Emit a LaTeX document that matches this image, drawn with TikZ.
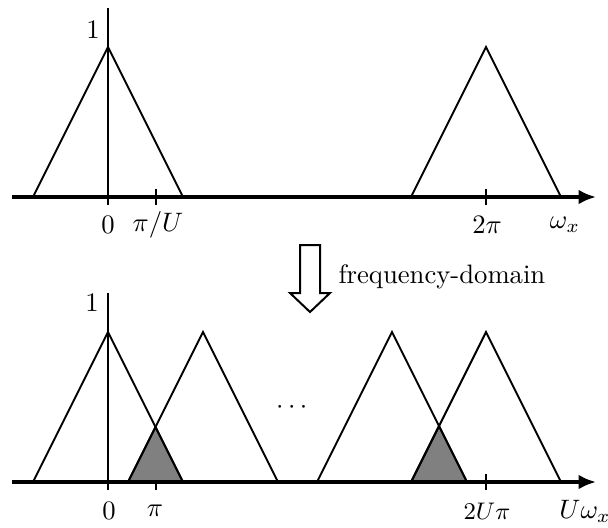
\documentclass[tikz,border=0pt]{standalone}
\usepackage{amsmath}
\usepackage{tikz}
\usetikzlibrary{arrows.meta}

\begin{document}
\begin{tikzpicture}[
  x=0.375pt,y=-0.375pt,
  axis/.style={line width=1.5pt,-{Latex[length=6.5pt,width=5.5pt]}},
  vaxis/.style={line width=1pt},
  tri/.style={line width=0.75pt,line join=miter},
  tick/.style={line width=0.75pt},
  overlap/.style={fill=black!50,draw=black,line width=0.75pt},
  lbl/.style={inner sep=0pt},
  hollow/.style={draw,line width=0.75pt,fill=white},
]
\useasboundingbox (0,0) rectangle (608,527);

% Original spectrum (top)
\draw[tick] (156,189) -- (156,205);
\draw[tick] (486,189) -- (486,205);
\draw[tri] (33,197) -- (108,47) -- (183,197);
\draw[tri] (411,197) -- (486,47) -- (561,197);
\draw[vaxis] (108,8) -- (108,205);
\draw[axis] (12,197) -- (596,197);

\node[lbl] (one1) at (93,30) {$1$};
\node[lbl] (zero1) at (108,225) {$0$};
\node[lbl] (piu) at (158,225) {$\pi/U$};
\node[lbl] (twopi) at (487,225) {$2\pi$};
\node[lbl] (omx) at (565,225) {$\omega_x$};

% Arrow between the two spectra
\draw[hollow] (300,245) -- (320,245) -- (320,293) -- (330,293) -- (310,312)
  -- (290,293) -- (300,293) -- cycle;
\node[lbl,anchor=west] (fd) at (338,277) {frequency-domain};

% Stretched spectrum (bottom)
\draw[tick] (156,474) -- (156,490);
\draw[tick] (486,474) -- (486,490);
\fill[overlap] (128,482) -- (155.5,427) -- (183,482) -- cycle;
\fill[overlap] (411,482) -- (439,426) -- (467,482) -- cycle;
\foreach \c in {108,203,392,486}
  \draw[tri] (\c-75,482) -- (\c,332) -- (\c+75,482);
\draw[vaxis] (108,293) -- (108,490);
\draw[axis] (12,482) -- (596,482);

\node[lbl] (one2) at (92,303) {$1$};
\node[lbl] (dots) at (294,408) {$\cdots$};
\node[lbl] (zero2) at (109,511) {$0$};
\node[lbl] (pi) at (155,511) {$\pi$};
\node[lbl,font=\small] (twoupi) at (487,511) {$2U\pi$};
\node[lbl] (uomx) at (585,511) {$U\omega_x$};
\end{tikzpicture}
\end{document}
